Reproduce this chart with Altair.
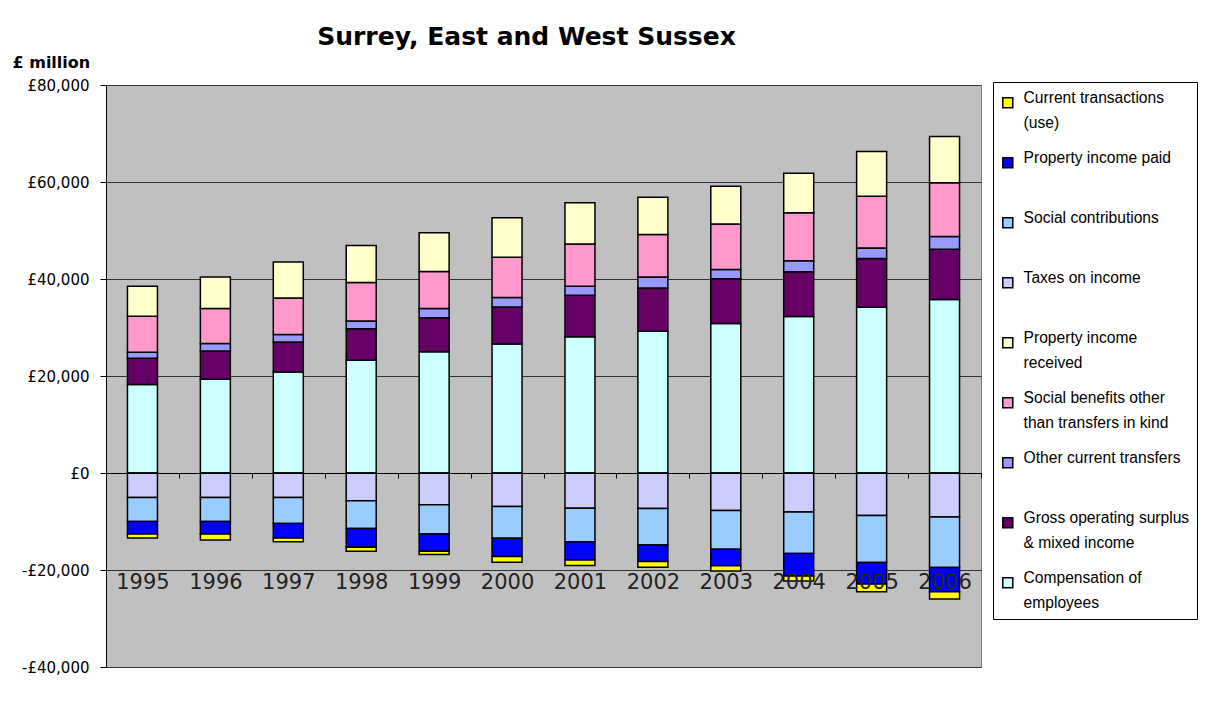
import altair as alt
import pandas as pd

years = [str(y) for y in range(1995, 2007)]

# series in stacking order (legend shows them reversed); "|" marks a line break in the legend
series = [
    "Compensation of|employees",
    "Gross operating surplus|& mixed income",
    "Other current transfers",
    "Social benefits other|than transfers in kind",
    "Property income|received",
    "Taxes on income",
    "Social contributions",
    "Property income paid",
    "Current transactions|(use)",
]
colors = ["#CCFFFF", "#660066", "#9999FF", "#FF99CC", "#FFFFCC",
          "#CCCCFF", "#99CCFF", "#0000FF", "#FFFF00"]

comp = [18250, 19340, 20840, 23240, 25020, 26580, 28100, 29250, 30830, 32260, 34190, 35750]
gos = [5400, 5800, 6150, 6500, 6970, 7670, 8530, 8900, 9230, 9230, 10050, 10400]
other = [1230, 1580, 1580, 1580, 1910, 1910, 1850, 2260, 1910, 2260, 2170, 2600]
social_ben = [7450, 7180, 7530, 7940, 7650, 8350, 8760, 8740, 9370, 9930, 10670, 11080]
prop_rec = [6150, 6500, 7380, 7650, 8000, 8120, 8470, 7730, 7800, 8120, 9230, 9560]
taxes = [-5070, -5070, -5070, -5740, -6560, -6910, -7260, -7320, -7730, -8060, -8760, -9090]
social_con = [-4920, -4920, -5330, -5680, -6030, -6560, -6890, -7530, -8000, -8550, -9700, -10400]
prop_paid = [-2600, -2600, -3010, -3900, -3550, -3750, -3770, -3400, -3400, -4650, -4450, -4980]
curr_use = [-820, -1230, -740, -820, -680, -1170, -1150, -1170, -1100, -1030, -1560, -1520]

y_ticks = [-40000, -20000, 0, 20000, 40000, 60000, 80000]

all_values = [comp, gos, other, social_ben, prop_rec, taxes, social_con, prop_paid, curr_use]
rows = []
for i, (name, vals) in enumerate(zip(series, all_values)):
    for yr, v in zip(years, vals):
        rows.append({"year": yr, "series": name, "value": v, "idx": i})
df = pd.DataFrame(rows)

chart = alt.Chart(df).mark_bar(size=30, stroke="black", strokeWidth=1.5).encode(
    x=alt.X("year:O", sort=years,
            scale=alt.Scale(paddingInner=0, paddingOuter=0),
            axis=alt.Axis(title=None, offset=-194, labelAngle=0,
                          labelFont="DejaVu Sans", labelFontSize=21, labelColor="#222",
                          labelPadding=93, tickBand="extent", tickSize=5,
                          tickColor="black", domainColor="black", domainWidth=1,
                          zindex=1, grid=False)),
    y=alt.Y("value:Q", stack="zero",
            scale=alt.Scale(domain=[-40000, 80000], nice=False),
            axis=alt.Axis(values=y_ticks,
                          labelExpr="(datum.value < 0 ? '-£' : '£') + format(abs(datum.value), ',')",
                          title="£ million", titleAngle=0, titleX=-94, titleY=-18,
                          titleAlign="left", titleBaseline="alphabetic",
                          titleFont="DejaVu Sans", titleFontSize=16, titleFontWeight="bold",
                          titleColor="black",
                          gridColor="#333333", gridWidth=1, tickColor="black",
                          domainColor="black", tickSize=6, labelPadding=11,
                          labelFont="DejaVu Sans", labelFontSize=15, labelColor="black")),
    color=alt.Color("series:N",
                    scale=alt.Scale(domain=series[::-1], range=colors[::-1]),
                    legend=alt.Legend(title="\u00a0", titleFontSize=6, titlePadding=0,
                                      orient="none", legendX=887, legendY=-3,
                                      direction="vertical", symbolType="square",
                                      symbolSize=100, symbolStrokeWidth=1.5,
                                      symbolStrokeColor="black",
                                      labelFont="Liberation Sans", labelFontSize=15.6,
                                      labelColor="black", labelBaseline="alphabetic",
                                      labelExpr="split(datum.label, '|')",
                                      labelLimit=400, labelOffset=8, padding=7,
                                      rowPadding=18, gridAlign="all",
                                      strokeColor="black", fillColor="white")),
    order=alt.Order("idx:Q", sort="ascending"),
).properties(
    width=875,
    height=582,
    title=alt.TitleParams("Surrey, East and West Sussex", font="DejaVu Sans",
                          fontSize=25, fontWeight="bold", color="black",
                          anchor="middle", frame="group", dx=-17),
    padding={"top": 17, "left": 4, "right": 0, "bottom": 5},
).configure(
    background="white",
    style={"guide-label": {"lineHeight": 25}},
).configure_view(
    fill="#C0C0C0", stroke="#808080", strokeWidth=1
)

chart.save("out.html", embed_options={"renderer": "svg", "actions": False})
